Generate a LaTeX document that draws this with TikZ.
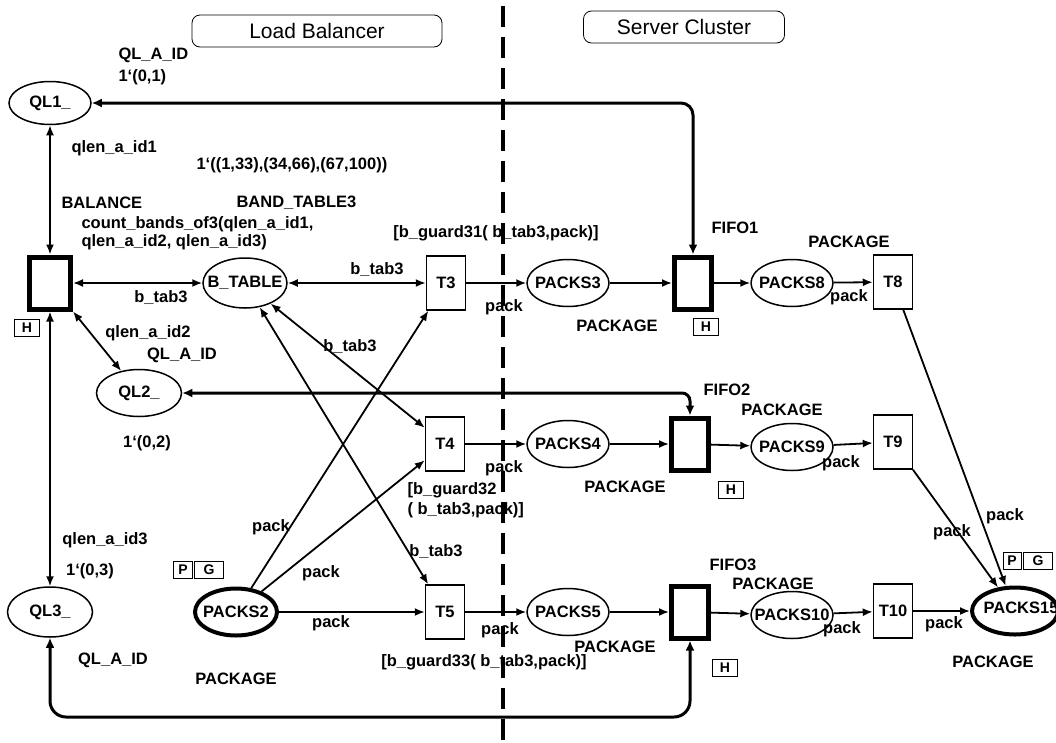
\documentclass[tikz,border=0pt]{standalone}
\usepackage{fontspec}
\setmainfont{Liberation Sans}
\usetikzlibrary{arrows.meta}
\usetikzlibrary{shapes.geometric}

\begin{document}
\begin{tikzpicture}[x=1pt,y=-1pt,
        font=\bfseries\fontsize{16.5}{18}\selectfont,
        place/.style={ellipse,draw,line width=1.5pt,minimum width=82pt,minimum height=47pt,inner sep=0pt},
        mainplace/.style={place,line width=4pt},
        trans/.style={rectangle,draw,line width=1.5pt,minimum width=39pt,minimum height=54pt,inner sep=0pt},
        fifotrans/.style={trans,line width=5pt,minimum width=37pt,minimum height=52pt},
        flag/.style={rectangle,draw,line width=0.8pt,minimum height=17pt,inner sep=0pt,font=\bfseries\fontsize{14}{14}\selectfont},
        hdr/.style={rectangle,draw,rounded corners=8pt,line width=0.8pt,minimum height=32pt,font=\fontsize{21}{24}\selectfont},
        flow/.style={line width=1.8pt,-{Latex[length=10pt,width=8pt]}},
        biflow/.style={line width=1.8pt,{Latex[length=10pt,width=8pt]}-{Latex[length=10pt,width=8pt]}},
        back/.style={line width=3pt,rounded corners=12pt,{Latex[length=10pt,width=9pt]}-{Latex[length=10pt,width=9pt]}}]
        \newcommand{\petrirowa}{283}
        \newcommand{\petrirowb}{444}
        \newcommand{\petrirowc}{612}
        \newcommand{\petricolt}{445}
        \newcommand{\petricolp}{568}
        \newcommand{\petricolf}{690}
        \newcommand{\petricolq}{792}
        \newcommand{\petricolu}{893}
        \useasboundingbox (0,0) rectangle (1056,742);
        \node[hdr,minimum width=250pt] (hdrlb) at (317,31) {Load Balancer};
        \node[hdr,minimum width=201pt] (hdrsc) at (684,27) {Server Cluster};
        \draw[line width=4pt,dash pattern=on 21pt off 10pt] (503,6) -- (503,742);
        \node[place,minimum height=43pt,label=center:QL1\_] (ql1) at (50,103) {};
        \node[place,minimum width=85pt,label=center:QL2\_] (ql2) at (139,393) {};
        \node[place,minimum width=85pt,minimum height=50pt,label=center:QL3\_] (ql3) at (50,\petrirowc) {};
        \node[fifotrans,minimum width=41pt] (bal) at (50,\petrirowa) {};
        \node[place,minimum width=84pt,minimum height=50pt,label=center:B\_TABLE] (btab) at (245,\petrirowa) {};
        \node[mainplace,minimum width=82pt,label=center:PACKS2] (p2) at (236,\petrirowc) {};
        \node[trans,label=center:T3] (t3) at (446,\petrirowa) {};
        \node[trans,label=center:T4] (t4) at (\petricolt,\petrirowb) {};
        \node[trans,label=center:T5] (t5) at (\petricolt,\petrirowc) {};
        \node[place,label=center:PACKS3] (p3) at (\petricolp,\petrirowa) {};
        \node[place,label=center:PACKS4] (p4) at (\petricolp,\petrirowb) {};
        \node[place,label=center:PACKS5] (p5) at (\petricolp,\petrirowc) {};
        \node[fifotrans] (fifo1) at (693,\petrirowa) {};
        \node[fifotrans] (fifo2) at (\petricolf,\petrirowb) {};
        \node[fifotrans] (fifo3) at (\petricolf,\petrirowc) {};
        \node[place,label=center:PACKS8] (p8) at (\petricolq,\petrirowa) {};
        \node[place,label=center:PACKS9] (p9) at (\petricolq,447) {};
        \node[place,label=center:PACKS10] (p10) at (\petricolq,615) {};
        \node[trans,label=center:T8] (t8) at (\petricolu,282) {};
        \node[trans,label=center:T9] (t9) at (\petricolu,442) {};
        \node[trans,label=center:T10] (t10) at (\petricolu,611) {};
        \node[mainplace,minimum width=86pt,label={[xshift=6pt,yshift=3pt]center:PACKS15}] (p15) at (1015,611) {};
        \node[flag,minimum width=25pt] (hbal) at (27,328) {H};
        \node[flag,minimum width=25pt] (hfa) at (706,327) {H};
        \node[flag,minimum width=25pt] (hfb) at (731,490) {H};
        \node[flag,minimum width=25pt] (hfc) at (725,668) {H};
        \node[flag,minimum width=19pt] (pgap) at (183,570) {P};
        \node[flag,minimum width=29pt] (pgag) at (209,570) {G};
        \node[flag,minimum width=18pt] (pgbp) at (1012,561) {P};
        \node[flag,minimum width=29pt] (pgbg) at (1038,561) {G};
        \node[anchor=west] (cola) at (115,55) {QL\_A\_ID};
        \node[anchor=west] (ini1) at (115,77) {1‘(0,1)};
        \node[anchor=west] (qida) at (68,148) {qlen\_a\_id1};
        \node[anchor=west] (initab) at (193,165) {1‘((1,33),(34,66),(67,100))};
        \node[anchor=west] (colbal) at (58,203) {BALANCE};
        \node[anchor=west] (coltab) at (233,203) {BAND\_TABLE3};
        \node[anchor=west,align=left] (cntb) at (78,233) {count\_bands\_of3(qlen\_a\_id1,\\qlen\_a\_id2, qlen\_a\_id3)};
        \node (btba) at (161,298) {b\_tab3};
        \node (btbb) at (377,270) {b\_tab3};
        \node (gda) at (496,233) {[b\_guard31( b\_tab3,pack)]};
        \node (pka) at (504,307) {pack};
        \node (colpa) at (617,326) {PACKAGE};
        \node (lfa) at (735,228) {FIFO1};
        \node (colqa) at (849,242) {PACKAGE};
        \node (pkua) at (849,297) {pack};
        \node (qidb) at (148,333) {qlen\_a\_id2};
        \node (colb) at (182,355) {QL\_A\_ID};
        \node (btbc) at (350,347) {b\_tab3};
        \node (lfb) at (727,390) {FIFO2};
        \node (colqb) at (782,410) {PACKAGE};
        \node (ini2) at (147,443) {1‘(0,2)};
        \node (pkb) at (504,468) {pack};
        \node (pkub) at (841,463) {pack};
        \node (colpb) at (625,487) {PACKAGE};
        \node[anchor=west,align=left,font=\bfseries\fontsize{16.5}{19.5}\selectfont] (gdb) at (404,500) {[b\_guard32\\( b\_tab3,pack)]};
        \node (pkea) at (1005,516) {pack};
        \node (pkeb) at (952,532) {pack};
        \node (pksa) at (271,527) {pack};
        \node (qidc) at (105,540) {qlen\_a\_id3};
        \node (btbd) at (436,552) {b\_tab3};
        \node (lfc) at (733,565) {FIFO3};
        \node (ini3) at (90,571) {1‘(0,3)};
        \node (pksb) at (321,573) {pack};
        \node (colqc) at (773,584) {PACKAGE};
        \node (pksc) at (331,623) {pack};
        \node (pkec) at (944,624) {pack};
        \node (pkc) at (500,630) {pack};
        \node (pkuc) at (842,629) {pack};
        \node (colpc) at (615,647) {PACKAGE};
        \node (colc) at (113,660) {QL\_A\_ID};
        \node (gdc) at (484,662) {[b\_guard33( b\_tab3,pack)]};
        \node (colend) at (993,662) {PACKAGE};
        \node (colsrc) at (236,679) {PACKAGE};
        \coordinate (retbot) at (0,717);
        \draw[biflow] (ql1) -- (bal);
        \draw[biflow] (bal) -- (ql3);
        \draw[biflow] (bal) -- (btab);
        \draw[biflow] (bal) -- (ql2);
        \draw[biflow] (btab) -- (t3);
        \draw[biflow] (btab) -- (t4);
        \draw[biflow] (btab) -- (t5);
        \draw[flow] (p2) -- (t3);
        \draw[flow] (p2) -- (t4);
        \draw[flow] (p2) -- (t5);
        \draw[flow] (t3) -- (p3);
        \draw[flow] (p3) -- (fifo1);
        \draw[flow] (fifo1) -- (p8);
        \draw[flow] (p8) -- (t8);
        \draw[flow] (t4) -- (p4);
        \draw[flow] (p4) -- (fifo2);
        \draw[flow] (fifo2) -- (p9);
        \draw[flow] (p9) -- (t9);
        \draw[flow] (t5) -- (p5);
        \draw[flow] (p5) -- (fifo3);
        \draw[flow] (fifo3) -- (p10);
        \draw[flow] (p10) -- (t10);
        \draw[flow] (t8) -- (p15);
        \draw[flow] (t9) -- (p15);
        \draw[flow] (t10) -- (p15);
        \draw[back] (ql1.east) -| (fifo1.north);
        \draw[back,rounded corners=8pt] (ql2.east) -| (fifo2.north);
        \draw[back,rounded corners=16pt] (ql3.south) |- (fifo3.south |- retbot) -- (fifo3.south);
\end{tikzpicture}
\end{document}
